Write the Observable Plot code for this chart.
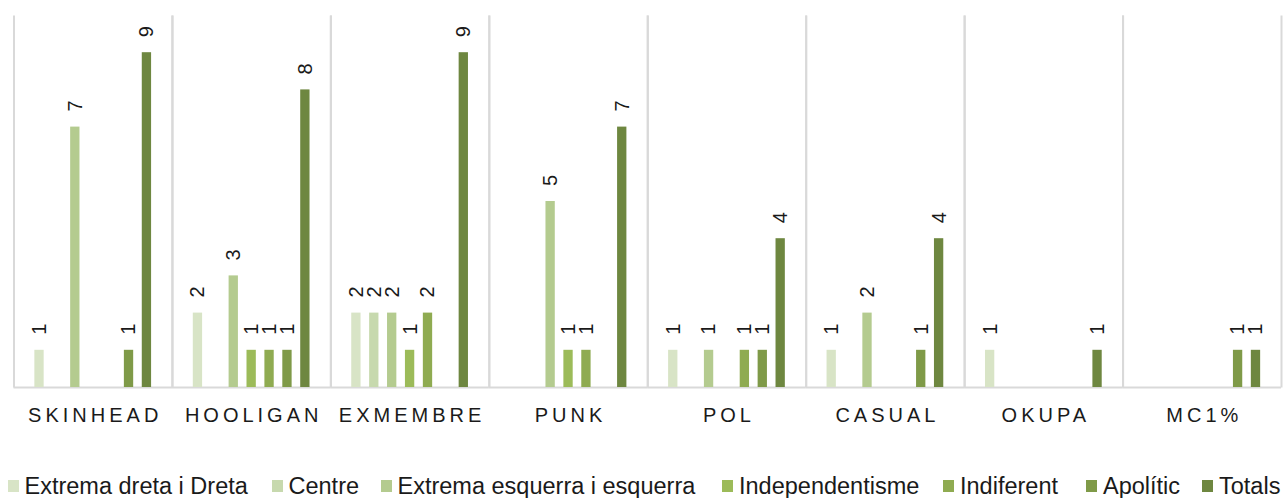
<!DOCTYPE html>
<html>
<head>
<meta charset="utf-8">
<script src="https://cdn.jsdelivr.net/npm/d3@7"></script>
<script src="https://cdn.jsdelivr.net/npm/@observablehq/plot@0.6"></script>
<style>
  html, body { margin: 0; padding: 0; background: #fff; }
  body { width: 1288px; height: 498px; overflow: hidden; font-family: Arial, "Liberation Sans", sans-serif; }
  #legend { position: relative; height: 58px; }
  .item { position: absolute; top: 34px; height: 24px; line-height: 24px; font-size: 23.5px; color: #1a1a1a; white-space: nowrap; }
  .sw { position: absolute; top: 6px; width: 11px; height: 12px; }
  .lbl { position: absolute; left: 17px; top: 0; }
</style>
</head>
<body>
<div id="chart"></div>
<div id="legend"></div>
<script>
const categories = ["SKINHEAD", "HOOLIGAN", "EXMEMBRE", "PUNK", "POL", "CASUAL", "OKUPA", "MC1%"];
const series = ["Extrema dreta i Dreta", "Centre", "Extrema esquerra i esquerra", "Independentisme", "Indiferent", "Apolític", "Totals"];
const colors = ["#d8e4c6", "#c7d9ae", "#b4cb8f", "#9cbb59", "#8fab51", "#7f9a48", "#6e8740"];

const extremaDreta   = [1, 2, 2, 0, 1, 1, 1, 0];
const centre         = [0, 0, 2, 0, 0, 0, 0, 0];
const extremaEsq     = [7, 3, 2, 5, 1, 2, 0, 0];
const independent    = [0, 1, 1, 1, 0, 0, 0, 0];
const indiferent     = [0, 1, 2, 1, 1, 0, 0, 0];
const apolitic       = [1, 1, 0, 0, 1, 1, 0, 1];
const totals         = [9, 8, 9, 7, 4, 4, 1, 1];

const seriesValues = [extremaDreta, centre, extremaEsq, independent, indiferent, apolitic, totals];

const rows = [];
categories.forEach((c, i) => {
  series.forEach((s, j) => {
    const v = seriesValues[j][i];
    if (v > 0) rows.push({category: c, series: s, value: v});
  });
});

const W = 1288, H = 440, ML = 13.5, MR = 7, MT = 15, MB = 53;
const facetW = (W - ML - MR) / categories.length;
const facetH = H - MT - MB;

const chart = Plot.plot({
  width: W, height: H,
  marginLeft: ML, marginRight: MR, marginTop: MT, marginBottom: MB,
  style: {fontFamily: "Arial, 'Liberation Sans', sans-serif", fontSize: "20px", color: "#1a1a1a", background: "white"},
  facet: {data: rows, x: "category"},
  fx: {domain: categories, padding: 0, round: false, label: null, axis: "bottom", tickSize: 0, tickPadding: 20},
  x: {domain: series, paddingInner: 0.48, paddingOuter: 1.165, round: false, axis: null},
  y: {domain: [0, 10], axis: null},
  color: {domain: series, range: colors},
  marks: [
    Plot.frame({stroke: "#d9d9d9", strokeWidth: 2, fill: "none",
      strokeDasharray: `0 ${facetW} ${facetH} ${facetW} ${facetH}`}),
    Plot.ruleY([0], {stroke: "#d9d9d9", strokeWidth: 2}),
    Plot.barY(rows, {x: "series", y: "value", fill: "series"}),
    Plot.text(rows, {x: "series", y: "value", text: d => String(d.value), rotate: -90,
      textAnchor: "start", lineAnchor: "middle", dy: -15.5, fontSize: 20, fill: "#1a1a1a"})
  ]
});
document.getElementById("chart").appendChild(chart);

d3.select(chart).selectAll('[aria-label^="fx-axis"] text')
  .attr("font-size", 20)
  .attr("letter-spacing", "4px")
  .attr("dx", "2px")
  .attr("fill", "#1a1a1a");

// legend
const legendX = [7.5, 271.5, 380.5, 722, 943, 1086, 1202];
const legend = d3.select("#legend");
series.forEach((s, j) => {
  const it = legend.append("div").attr("class", "item").style("left", legendX[j] + "px");
  it.append("div").attr("class", "sw").style("background", colors[j]);
  it.append("span").attr("class", "lbl").text(s);
});
</script>
</body>
</html>
